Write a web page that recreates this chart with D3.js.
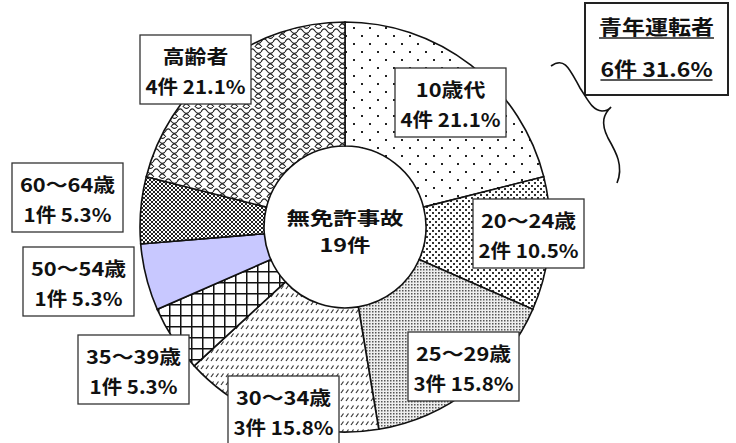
<!DOCTYPE html>
<html>
<head>
<meta charset="utf-8">
<script src="https://cdn.jsdelivr.net/npm/d3@7"></script>
<style>
  body { margin: 0; background: #fff; }
  svg { display: block; }
  text { font-family: "Noto Sans CJK JP", "Noto Sans", sans-serif; font-weight: bold; fill: #111; }
</style>
</head>
<body>
<svg id="chart" width="736" height="443"></svg>
<script>
// data
var categories = ["10歳代", "20～24歳", "25～29歳", "30～34歳", "35～39歳", "50～54歳", "60～64歳", "高齢者"];
var counts = [4, 2, 3, 3, 1, 1, 1, 4];
var centerTitle = "無免許事故";
var groupName = "青年運転者";
var groupCount = 6;

// label box top-left corners (layout)
var boxPos = [[395, 68], [473, 199], [408, 332], [228, 376], [78, 335], [23, 247], [12, 163], [140, 35]];
var fills = ["url(#pDots)", "url(#pDots2)", "url(#pDots3)", "url(#pDash)", "url(#pGrid)", "#c8c8ff", "url(#pCheck)", "url(#pScale)"];

var cx = 345, cy = 227, rOuter = 205, rInner = 81;
var total = d3.sum(counts);
function pct(v) { return (v / total * 100).toFixed(1) + "%"; }

var svg = d3.select("#chart");
var defs = svg.append("defs");

// text stretched a bit wider, like the original gothic font
function wideText(parent, x, y, size, str, sx) {
  return parent.append("text")
    .attr("transform", "translate(" + x + "," + y + ") scale(" + sx + ",1)")
    .attr("text-anchor", "middle")
    .attr("font-size", size)
    .text(str);
}

// sparse dots
var p = defs.append("pattern").attr("id", "pDots").attr("patternUnits", "userSpaceOnUse")
  .attr("width", 16).attr("height", 16);
p.append("rect").attr("width", 16).attr("height", 16).attr("fill", "#fff");
p.append("rect").attr("x", 0).attr("y", 0).attr("width", 2).attr("height", 2).attr("fill", "#222");
p.append("rect").attr("x", 8).attr("y", 8).attr("width", 2).attr("height", 2).attr("fill", "#222");

// medium dots
p = defs.append("pattern").attr("id", "pDots2").attr("patternUnits", "userSpaceOnUse")
  .attr("width", 6).attr("height", 6);
p.append("rect").attr("width", 6).attr("height", 6).attr("fill", "#fff");
p.append("rect").attr("x", 0).attr("y", 0).attr("width", 2).attr("height", 2).attr("fill", "#333");
p.append("rect").attr("x", 3).attr("y", 3).attr("width", 2).attr("height", 2).attr("fill", "#333");

// dense dots
p = defs.append("pattern").attr("id", "pDots3").attr("patternUnits", "userSpaceOnUse")
  .attr("width", 3).attr("height", 3);
p.append("rect").attr("width", 3).attr("height", 3).attr("fill", "#eee");
p.append("rect").attr("x", 0).attr("y", 0).attr("width", 1.5).attr("height", 1.5).attr("fill", "#555");

// dashes
p = defs.append("pattern").attr("id", "pDash").attr("patternUnits", "userSpaceOnUse")
  .attr("width", 5).attr("height", 8);
p.append("rect").attr("width", 5).attr("height", 8).attr("fill", "#fff");
p.append("path").attr("d", "M1,6 L3.5,2.5").attr("stroke", "#333").attr("stroke-width", 1.2);

// grid
p = defs.append("pattern").attr("id", "pGrid").attr("patternUnits", "userSpaceOnUse")
  .attr("width", 11).attr("height", 11);
p.append("rect").attr("width", 11).attr("height", 11).attr("fill", "#fff");
p.append("path").attr("d", "M0,0.75 H11 M0.75,0 V11").attr("stroke", "#111").attr("stroke-width", 1.5);

// checker
p = defs.append("pattern").attr("id", "pCheck").attr("patternUnits", "userSpaceOnUse")
  .attr("width", 4).attr("height", 4);
p.append("rect").attr("width", 4).attr("height", 4).attr("fill", "#fff");
p.append("rect").attr("width", 2).attr("height", 2).attr("fill", "#222");
p.append("rect").attr("x", 2).attr("y", 2).attr("width", 2).attr("height", 2).attr("fill", "#222");

// scale / wave
p = defs.append("pattern").attr("id", "pScale").attr("patternUnits", "userSpaceOnUse")
  .attr("width", 12).attr("height", 10);
p.append("rect").attr("width", 12).attr("height", 10).attr("fill", "#fff");
p.append("path")
  .attr("d", "M0,5 C2,1 4,1 6,4 C8,7 10,7 12,5 M-6,10 C-4,6 -2,6 0,9 C2,12 4,12 6,10 C8,6 10,6 12,9 M0,0 C2,-4 4,-4 6,-1 C8,2 10,2 12,0")
  .attr("fill", "none").attr("stroke", "#222").attr("stroke-width", 1.1);

var pie = d3.pie().sort(null).value(function(d) { return d; });
var arc = d3.arc().innerRadius(rInner).outerRadius(rOuter);
var arcs = pie(counts);

var g = svg.append("g").attr("transform", "translate(" + cx + "," + cy + ")");
g.selectAll("path.slice").data(arcs).enter().append("path")
  .attr("class", "slice")
  .attr("d", arc)
  .attr("fill", function(d, i) { return fills[i]; })
  .attr("stroke", "#111")
  .attr("stroke-width", 1.6);

// center text
wideText(g, 0, -2, 18, centerTitle, 1.3);
wideText(g, 0, 25, 18, total + "件", 1.3);

// label boxes
var boxW = 111, boxH = 69;
categories.forEach(function(c, i) {
  var bx = boxPos[i][0], by = boxPos[i][1];
  var lb = svg.append("g").attr("transform", "translate(" + bx + "," + by + ")");
  lb.append("rect").attr("width", boxW).attr("height", boxH)
    .attr("fill", "#fff").attr("stroke", "#333").attr("stroke-width", 1.3);
  wideText(lb, boxW / 2, 29, 19, c, 1.15);
  wideText(lb, boxW / 2, 59, 19, counts[i] + "件 " + pct(counts[i]), 1.08);
});

// group box with brace
var gb = svg.append("g").attr("transform", "translate(585,3)");
gb.append("rect").attr("width", 143).attr("height", 92)
  .attr("fill", "#fff").attr("stroke", "#222").attr("stroke-width", 2);
[[groupName, 32], [groupCount + "件 " + pct(groupCount), 74]].forEach(function(t) {
  var tx = wideText(gb, 71.5, t[1], 20, t[0], 1.15);
  var w = tx.node().getComputedTextLength() * 1.15;
  gb.append("line").attr("x1", 71.5 - w / 2).attr("x2", 71.5 + w / 2)
    .attr("y1", t[1] + 3).attr("y2", t[1] + 3).attr("stroke", "#222").attr("stroke-width", 1.5);
});

svg.append("path")
  .attr("d", "M551,66 C565,56 570,70 580,88 C588,100 592,110 602,111 C606,111 609,110 611,107 C604,114 600,122 608,138 C616,152 624,166 617,183")
  .attr("fill", "none").attr("stroke", "#111").attr("stroke-width", 1.6);
</script>
</body>
</html>
